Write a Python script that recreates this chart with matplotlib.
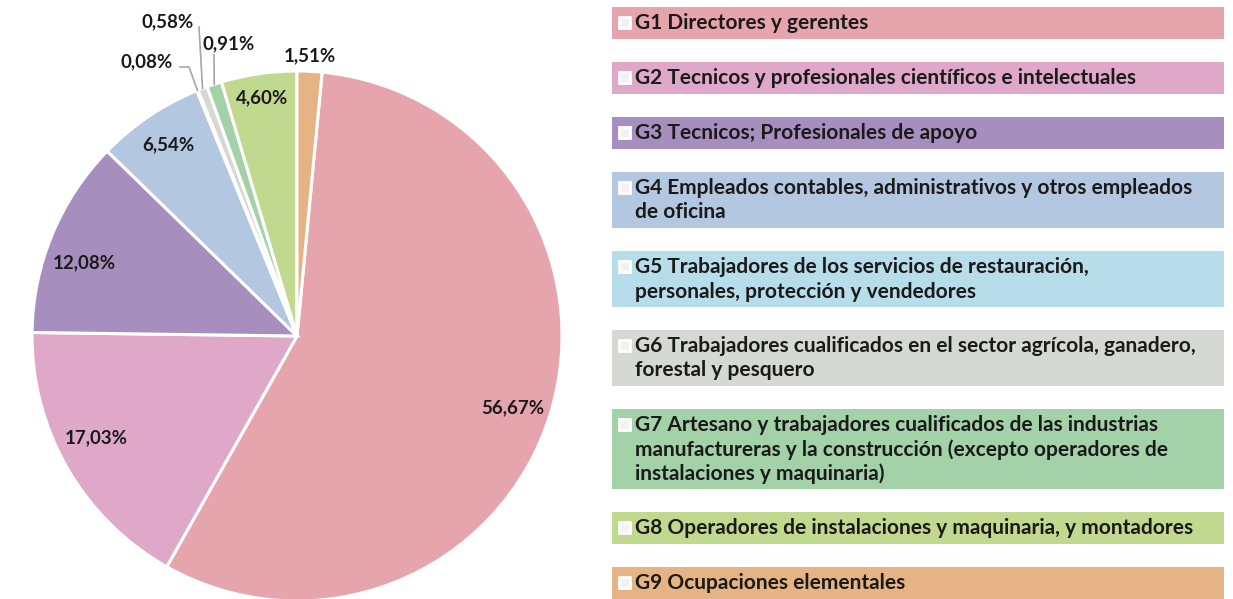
import matplotlib.pyplot as plt
from matplotlib.patches import Rectangle
import numpy as np

# datos del grafico
grupos = ['G1', 'G2', 'G3', 'G4', 'G5', 'G6', 'G7', 'G8', 'G9']
valores = [56.67, 17.03, 12.08, 6.54, 0.08, 0.58, 0.91, 4.60, 1.51]
etiquetas = ['56,67%', '17,03%', '12,08%', '6,54%', '0,08%', '0,58%', '0,91%', '4,60%', '1,51%']
leyenda = [
    ['G1 Directores y gerentes'],
    ['G2 Tecnicos y profesionales científicos e intelectuales'],
    ['G3 Tecnicos; Profesionales de apoyo'],
    ['G4 Empleados contables, administrativos y otros empleados', 'de oficina'],
    ['G5 Trabajadores de los servicios de restauración,', 'personales, protección y vendedores'],
    ['G6 Trabajadores cualificados en el sector agrícola, ganadero,', 'forestal y pesquero'],
    ['G7 Artesano y trabajadores cualificados de las industrias',
     'manufactureras y la construcción (excepto operadores de',
     'instalaciones y maquinaria)'],
    ['G8 Operadores de instalaciones y maquinaria, y montadores'],
    ['G9 Ocupaciones elementales'],
]
colores = ['#e6a5ac', '#e0a8c8', '#a68fbf', '#b3c7e0', '#b7dcea',
           '#d6d8d3', '#a3d1a8', '#c1d98e', '#e5b384']

plt.rcParams['font.family'] = ['Lato', 'DejaVu Sans']

W, H = 1233, 599
fig = plt.figure(figsize=(W / 100, H / 100), dpi=100)

# pie: centro (297, 336) px, radio 265 px
cx, cy, r = 297, 336, 265
ax = fig.add_axes([(cx - r) / W, (H - cy - r) / H, 2 * r / W, 2 * r / H])

total = sum(valores)
inicio = 90 - 360 * valores[-1] / total
wedges, _ = ax.pie(valores, colors=colores, startangle=inicio, counterclock=False,
                   radius=1, wedgeprops=dict(edgecolor='white', linewidth=2.2))
ax.set_xlim(-1, 1)
ax.set_ylim(-1, 1)
ax.axis('off')

def px(x, y):
    return ((x - cx) / r, (cy - y) / r)

tam = 13.5
# radio y giro (grados) de cada etiqueta interior
radios = [0.86, 0.85, 0.85, 0.87, None, None, None, 0.91, 1.06]
giros = [-1, -3, 3.5, 0, 0, 0, 0, 0, 0]
for w, lab, rr, g in zip(wedges, etiquetas, radios, giros):
    if rr is None:
        continue
    ang = np.deg2rad((w.theta1 + w.theta2) / 2 + g)
    ax.text(rr * np.cos(ang), rr * np.sin(ang), lab, ha='center', va='center',
            fontsize=tam, fontweight='bold', color='#1a1a1a')

# etiquetas pequenas con lineas guia
guia = '#a6a6a6'
fuera = {4: (147, 62), 5: (168, 22), 6: (229, 44)}
for i, (tx, ty) in fuera.items():
    ax.text(*px(tx, ty), etiquetas[i], ha='center', va='center',
            fontsize=tam, fontweight='bold', color='#1a1a1a')
for i in [4, 5, 6]:
    w = wedges[i]
    ang = np.deg2rad((w.theta1 + w.theta2) / 2)
    ex, ey = np.cos(ang), np.sin(ang)
    if i == 4:
        pts = [px(180, 67), px(189, 67), (ex, ey)]
    elif i == 5:
        pts = [px(199, 27), (ex, ey)]
    else:
        pts = [px(214, 55), (ex, ey)]
    xs, ys = zip(*pts)
    ax.plot(xs, ys, color=guia, lw=1.2, clip_on=False)

# leyenda como cajas de color
lg = fig.add_axes([0, 0, 1, 1])
lg.set_xlim(0, W)
lg.set_ylim(H, 0)
lg.axis('off')

y = 7
for texto, col in zip(leyenda, colores):
    n = len(texto)
    h = 32 + 24 * (n - 1)
    lg.add_patch(Rectangle((612, y), 612, h, facecolor=col, edgecolor='none'))
    lg.add_patch(Rectangle((618.5, y + 10), 11, 11, facecolor='#f2f2f2',
                           edgecolor='white', linewidth=2))
    for k, linea in enumerate(texto):
        lg.text(635, y + 16 + 24.5 * k, linea, ha='left', va='center',
                fontsize=15, fontweight='bold', color='#1a1a1a')
    y += h + 23

fig.savefig('out.png', dpi=100)
